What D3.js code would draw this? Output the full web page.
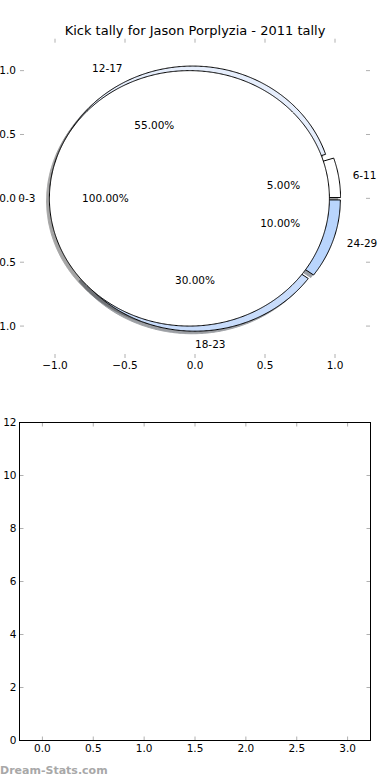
<!DOCTYPE html>
<html>
<head>
<meta charset="utf-8">
<script src="https://cdn.jsdelivr.net/npm/d3@7"></script>
<style>
  html, body { margin: 0; padding: 0; background: #fff; }
  svg { display: block; }
  text { font-family: "DejaVu Sans", sans-serif; fill: #000; }
</style>
</head>
<body>
<svg id="chart" width="390" height="780"></svg>
<script>
// ---- data ----
const title = "Kick tally for Jason Porplyzia - 2011 tally";
const categories = ["0-3", "6-11", "12-17", "18-23", "24-29"];
const fractions = [1.00, 0.05, 0.55, 0.30, 0.10];
const explode = [0.04, 0.04, 0.04, 0.04, 0.04];
const pieTicks = [-1.0, -0.5, 0.0, 0.5, 1.0];
const barXTicks = [0.0, 0.5, 1.0, 1.5, 2.0, 2.5, 3.0];
const barYTicks = [0, 2, 4, 6, 8, 10, 12];
const watermark = "Dream-Stats.com";

// ---- styles ----
const wedgeColors = ["#ffffff", "#ffffff", "#e6eefc", "#c8dcfb", "#b9d5fd"];
const tickColor = "#b0b0b0";
const fmtTick = d => d3.format(".1f")(d).replace("-", "\u2212");

const svg = d3.select("#chart");

// ---- pie axes ----
const xs = d3.scaleLinear().domain([-1.25, 1.25]).range([20, 370]);
const ys = d3.scaleLinear().domain([-1.25, 1.25]).range([358, 38.7]);

svg.append("text").attr("x", 195).attr("y", 35).attr("text-anchor", "middle")
  .attr("font-size", "13px").text(title);

// ticks (frame hidden)
const tl = 4;
const pg = svg.append("g");
pieTicks.forEach(t => {
  const x = xs(t), y = ys(t);
  pg.append("line").attr("x1", x).attr("x2", x).attr("y1", ys.range()[1]).attr("y2", ys.range()[1] + tl);
  pg.append("line").attr("x1", x).attr("x2", x).attr("y1", ys.range()[0]).attr("y2", ys.range()[0] - tl);
  pg.append("line").attr("y1", y).attr("y2", y).attr("x1", xs.range()[0]).attr("x2", xs.range()[0] + tl);
  pg.append("line").attr("y1", y).attr("y2", y).attr("x1", xs.range()[1]).attr("x2", xs.range()[1] - tl);
  svg.append("text").attr("x", x).attr("y", ys.range()[0] + 11).attr("text-anchor", "middle")
    .attr("font-size", "10.5px").text(fmtTick(t));
  svg.append("text").attr("x", xs.range()[0] - 4).attr("y", y).attr("dy", "0.35em")
    .attr("text-anchor", "end").attr("font-size", "10.5px").text(fmtTick(t));
});
pg.selectAll("line").attr("stroke", tickColor).attr("stroke-width", 1);

// wedge geometry
let cum = 0;
const wedges = fractions.map((f, i) => {
  const t1 = cum * 360, t2 = (cum + f) * 360;
  cum += f;
  const tm = (t1 + t2) / 2 * Math.PI / 180;
  const cx = explode[i] * Math.cos(tm), cy = explode[i] * Math.sin(tm);
  return { i, cat: categories[i], f, t1, t2, tm, cx, cy, full: (t2 - t1) >= 359.999 };
});

function wedgePts(w, ox, oy) {
  const pts = [];
  if (!w.full) pts.push([w.cx + ox, w.cy + oy]);
  const n = Math.max(4, Math.ceil((w.t2 - w.t1) / 0.5));
  for (let k = 0; k <= n; k++) {
    const a = (w.t1 + (w.t2 - w.t1) * k / n) * Math.PI / 180;
    pts.push([w.cx + ox + Math.cos(a), w.cy + oy + Math.sin(a)]);
  }
  return pts;
}
const line = d3.line().x(p => xs(p[0])).y(p => ys(p[1]));

// shadows
const sg = svg.append("g");
wedges.forEach(w => {
  const c = d3.rgb(wedgeColors[w.i]);
  const sc = d3.rgb(c.r * 0.3, c.g * 0.3, c.b * 0.3);
  sg.append("path").attr("d", line(wedgePts(w, -0.02, -0.02)) + "Z")
    .attr("fill", sc).attr("stroke", sc).attr("stroke-width", 1).attr("opacity", 0.5);
});

// wedges: smaller ones first, full circle on top
const order = wedges.filter(w => !w.full).concat(wedges.filter(w => w.full));
const wg = svg.append("g");
order.forEach(w => {
  wg.append("path").attr("d", line(wedgePts(w, 0, 0)) + "Z")
    .attr("fill", wedgeColors[w.i]).attr("stroke", "#000").attr("stroke-width", 1)
    .attr("stroke-linejoin", "miter");
});

// labels
wedges.forEach(w => {
  const lx = w.cx + 1.1 * Math.cos(w.tm), ly = w.cy + 1.1 * Math.sin(w.tm);
  svg.append("text").attr("x", xs(lx)).attr("y", ys(ly)).attr("dy", "0.35em")
    .attr("text-anchor", Math.cos(w.tm) < -1e-9 ? "end" : "start")
    .attr("font-size", "10.5px").text(w.cat);
  const px = w.cx + 0.6 * Math.cos(w.tm), py = w.cy + 0.6 * Math.sin(w.tm);
  svg.append("text").attr("x", xs(px)).attr("y", ys(py)).attr("dy", "0.35em")
    .attr("text-anchor", "middle").attr("font-size", "10.5px")
    .text(d3.format(".2f")(w.f * 100) + "%");
});

// ---- second (empty) axes ----
const bx = d3.scaleLinear().domain([-0.225, 3.225]).range([19.5, 370.5]);
const by = d3.scaleLinear().domain([0, 12]).range([740.5, 422.5]);
const bg = svg.append("g");
barXTicks.forEach(t => {
  const x = bx(t);
  bg.append("line").attr("class", "tk").attr("x1", x).attr("x2", x).attr("y1", by(0)).attr("y2", by(0) - tl);
  bg.append("line").attr("class", "tk").attr("x1", x).attr("x2", x).attr("y1", by(12)).attr("y2", by(12) + tl);
  svg.append("text").attr("x", x).attr("y", by(0) + 11).attr("text-anchor", "middle")
    .attr("font-size", "10.5px").text(d3.format(".1f")(t));
});
barYTicks.forEach(t => {
  const y = by(t);
  bg.append("line").attr("class", "tk").attr("y1", y).attr("y2", y).attr("x1", bx.range()[0]).attr("x2", bx.range()[0] + tl);
  bg.append("line").attr("class", "tk").attr("y1", y).attr("y2", y).attr("x1", bx.range()[1]).attr("x2", bx.range()[1] - tl);
  svg.append("text").attr("x", bx.range()[0] - 3).attr("y", y).attr("dy", "0.35em")
    .attr("text-anchor", "end").attr("font-size", "10.5px").text(String(t));
});
bg.selectAll("line.tk").attr("stroke", tickColor).attr("stroke-width", 1);
bg.append("rect").attr("x", bx.range()[0]).attr("y", by(12))
  .attr("width", bx.range()[1] - bx.range()[0]).attr("height", by(0) - by(12))
  .attr("fill", "none").attr("stroke", "#000").attr("stroke-width", 1);

// watermark
svg.append("text").attr("x", 0).attr("y", 774).attr("font-size", "11px")
  .attr("font-weight", "bold").style("fill", "#a8a8a8").text(watermark);
</script>
</body>
</html>
